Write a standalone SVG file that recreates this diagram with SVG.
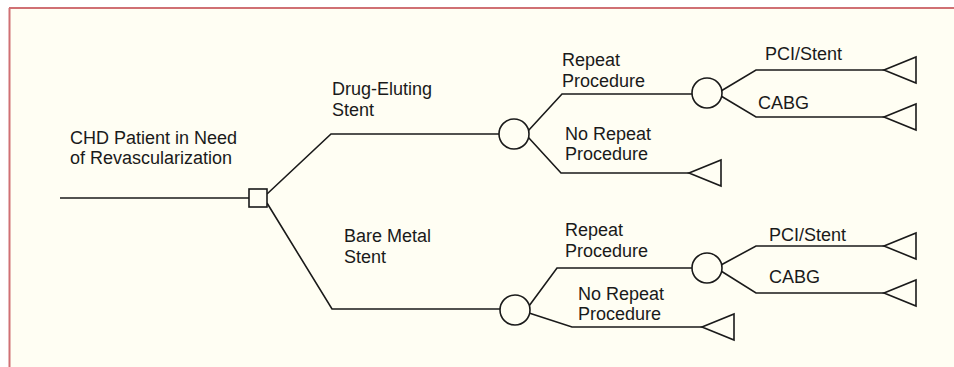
<svg xmlns="http://www.w3.org/2000/svg" width="954" height="367" viewBox="0 0 954 367">
<style>
.ln{fill:none;stroke:#1a1a1a;stroke-width:1.6;stroke-linejoin:miter}
.nd{fill:#fffef3;stroke:#1a1a1a;stroke-width:1.6}
text{font-family:"Liberation Sans",Arial,sans-serif;font-size:18px;fill:#1a1a1a}
</style>
<rect x="0" y="0" width="954" height="367" fill="#ffffff"/>
<rect x="10" y="9" width="944" height="358" fill="#fffef3"/>
<line x1="9" y1="8" x2="954" y2="8" stroke="#d07074" stroke-width="2"/>
<line x1="9.5" y1="8" x2="9.5" y2="367" stroke="#d07074" stroke-width="2"/>
<g id="connectors">
<path class="ln" d="M60,198 H249"/>
<path class="ln" d="M267,194 L331,134 H499"/>
<path class="ln" d="M267,203 L332,309 H500"/>
<path class="ln" d="M528,131 L562,94 H692"/>
<path class="ln" d="M528,137 L561,173 H689"/>
<path class="ln" d="M721,91 L756,70 H884"/>
<path class="ln" d="M721,96 L756,117 H884"/>
<path class="ln" d="M529,306 L557,268 H692"/>
<path class="ln" d="M529,313 L572,327 H702"/>
<path class="ln" d="M721,265 L756,246 H884"/>
<path class="ln" d="M721,271 L756,293 H884"/>
</g>
<g id="decision"><rect class="nd" x="249" y="189" width="18" height="18"/></g>
<g id="chance-des"><circle class="nd" cx="514" cy="134" r="15"/></g>
<g id="chance-bms"><circle class="nd" cx="515" cy="310" r="15"/></g>
<g id="chance-des-repeat"><circle class="nd" cx="707" cy="93" r="15"/></g>
<g id="chance-bms-repeat"><circle class="nd" cx="707" cy="268" r="15"/></g>
<g id="term-des-norepeat"><polygon class="nd" points="689,173 721,160 721,186"/></g>
<g id="term-des-pci"><polygon class="nd" points="884,70 916,57 916,83"/></g>
<g id="term-des-cabg"><polygon class="nd" points="884,117 916,104 916,130"/></g>
<g id="term-bms-norepeat"><polygon class="nd" points="702,327 734,314 734,340"/></g>
<g id="term-bms-pci"><polygon class="nd" points="884,246 916,233 916,259"/></g>
<g id="term-bms-cabg"><polygon class="nd" points="884,293 916,280 916,306"/></g>
<g id="labels">
<text x="70" y="144">CHD Patient in Need</text>
<text x="70" y="164">of Revascularization</text>
<text x="332" y="95">Drug-Eluting</text>
<text x="332" y="116">Stent</text>
<text x="344" y="242">Bare Metal</text>
<text x="344" y="263">Stent</text>
<text x="562" y="66">Repeat</text>
<text x="562" y="87">Procedure</text>
<text x="565" y="140">No Repeat</text>
<text x="565" y="160">Procedure</text>
<text x="765" y="60">PCI/Stent</text>
<text x="758" y="109">CABG</text>
<text x="565" y="236">Repeat</text>
<text x="565" y="257">Procedure</text>
<text x="578" y="300">No Repeat</text>
<text x="578" y="320">Procedure</text>
<text x="769" y="241">PCI/Stent</text>
<text x="769" y="283">CABG</text>
</g>
</svg>
